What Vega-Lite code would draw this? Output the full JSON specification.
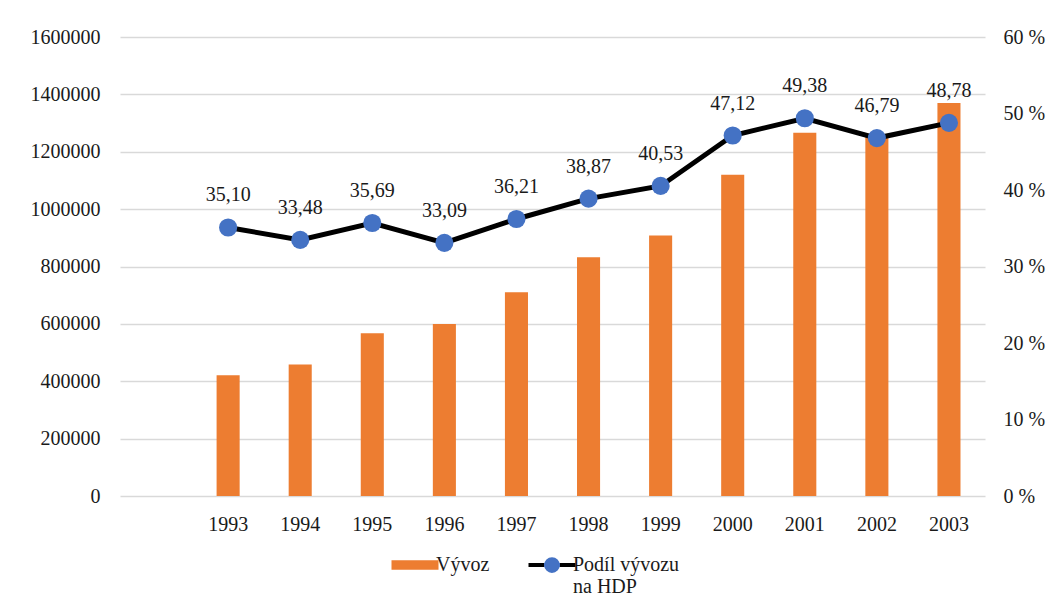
{
  "$schema": "https://vega.github.io/schema/vega-lite/v6.json",
  "autosize": "none",
  "width": 865,
  "height": 459,
  "padding": {"left": 120, "top": 37, "right": 77, "bottom": 114},
  "background": "white",
  "config": {
    "locale": {"number": {"decimal": ",", "thousands": "\u00a0", "grouping": [3], "currency": ["", " Kč"]}},
    "font": "Liberation Serif",
    "view": {"stroke": null},
    "axis": {"labelFont": "Liberation Serif", "labelFontSize": 20, "labelColor": "#1a1a1a", "ticks": false, "domain": false, "title": null}
  },
  "data": {
    "values": [
      {"rok": "1993", "vyvoz": 421000, "podil": 35.10},
      {"rok": "1994", "vyvoz": 458000, "podil": 33.48},
      {"rok": "1995", "vyvoz": 567000, "podil": 35.69},
      {"rok": "1996", "vyvoz": 600000, "podil": 33.09},
      {"rok": "1997", "vyvoz": 710000, "podil": 36.21},
      {"rok": "1998", "vyvoz": 832000, "podil": 38.87},
      {"rok": "1999", "vyvoz": 908000, "podil": 40.53},
      {"rok": "2000", "vyvoz": 1120000, "podil": 47.12},
      {"rok": "2001", "vyvoz": 1266000, "podil": 49.38},
      {"rok": "2002", "vyvoz": 1255000, "podil": 46.79},
      {"rok": "2003", "vyvoz": 1370000, "podil": 48.78}
    ]
  },
  "encoding": {
    "x": {
      "field": "rok",
      "type": "nominal",
      "sort": null,
      "scale": {"domain": ["", "1993", "1994", "1995", "1996", "1997", "1998", "1999", "2000", "2001", "2002", "2003"], "paddingInner": 0.68, "paddingOuter": 0.34},
      "axis": {"labelAngle": 0, "labelPadding": 18, "grid": false}
    }
  },
  "layer": [
    {
      "mark": {"type": "bar"},
      "encoding": {
        "y": {
          "field": "vyvoz",
          "type": "quantitative",
          "scale": {"domain": [0, 1600000], "nice": false},
          "axis": {"format": "d", "values": [0, 200000, 400000, 600000, 800000, 1000000, 1200000, 1400000, 1600000], "grid": true, "gridColor": "#d9d9d9", "gridWidth": 1.3, "labelPadding": 20}
        },
        "fill": {
          "datum": "Vývoz",
          "type": "nominal",
          "scale": {"domain": ["Vývoz", "Podíl vývozu na HDP"], "range": ["#ED7D31", "#4472C4"]},
          "legend": {
            "orient": "none",
            "legendX": 285,
            "legendY": 518,
            "direction": "horizontal",
            "title": null,
            "padding": 0,
            "labelFont": "Liberation Serif",
            "labelFontSize": 20,
            "labelColor": "#1a1a1a",
            "labelOffset": 11,
            "columnPadding": 30,
            "symbolSize": 2209,
            "symbolStrokeWidth": 4,
            "labelExpr": "datum.label == 'Podíl vývozu na HDP' ? ['Podíl vývozu', 'na HDP'] : [datum.label, ' ']",
            "encode": {
              "symbols": {
                "update": {
                  "size": {"value": 2209},
                  "shape": {"signal": "datum.value === 'Vývoz' ? 'M-1,-0.2L1,-0.2L1,0.2L-1,0.2Z' : 'M-1,0L1,0M0.25,0A0.25,0.25 0 1 1 -0.25,0A0.25,0.25 0 1 1 0.25,0'"},
                  "strokeWidth": {"signal": "datum.value === 'Vývoz' ? 0 : 4"},
                  "stroke": {"value": {"gradient": "linear", "stops": [
                    {"offset": 0, "color": "#000000"},
                    {"offset": 0.33, "color": "#000000"},
                    {"offset": 0.33, "color": "#4472C4"},
                    {"offset": 0.67, "color": "#4472C4"},
                    {"offset": 0.67, "color": "#000000"},
                    {"offset": 1, "color": "#000000"}
                  ]}}
                }
              }
            }
          }
        }
      }
    },
    {
      "encoding": {
        "y": {
          "field": "podil",
          "type": "quantitative",
          "scale": {"domain": [0, 60], "nice": false},
          "axis": {"orient": "right", "values": [0, 10, 20, 30, 40, 50, 60], "grid": false, "labelPadding": 18, "labelExpr": "datum.value + ' %'"}
        }
      },
      "layer": [
        {"mark": {"type": "line", "color": "#000000", "strokeWidth": 5}},
        {
          "mark": {"type": "point", "filled": true, "size": 330, "opacity": 1, "strokeWidth": 0},
          "encoding": {"fill": {"datum": "Podíl vývozu na HDP", "type": "nominal"}}
        },
        {
          "mark": {"type": "text", "dy": -32, "fontSize": 20, "font": "Liberation Serif", "color": "#1a1a1a"},
          "encoding": {"text": {"field": "podil", "type": "quantitative", "format": ".2f"}}
        }
      ]
    }
  ],
  "resolve": {"scale": {"y": "independent"}}
}
